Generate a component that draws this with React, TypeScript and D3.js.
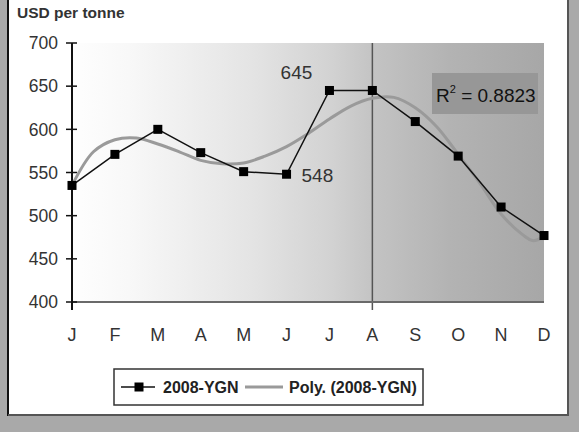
import * as d3 from 'd3'

const months = ['J', 'F', 'M', 'A', 'M', 'J', 'J', 'A', 'S', 'O', 'N', 'D']
const prices = [535, 571, 600, 573, 551, 548, 645, 645, 609, 569, 510, 477]
const yTicks = [400, 450, 500, 550, 600, 650, 700]

// polynomial trend line at half-month steps
const trendT = [0, 0.5, 1, 1.5, 2, 2.5, 3, 3.5, 4, 4.5, 5, 5.5, 6, 6.5, 7, 7.5, 8, 8.5, 9, 9.5, 10, 10.5, 10.75, 11]
const trendV = [535, 574, 588, 590, 583, 574, 564, 560, 561, 569, 580, 595, 612, 627, 636, 637, 625, 603, 571, 538, 502, 478, 471, 476]

const W = 579
const H = 432
const plot = { left: 72, right: 544, top: 43, bottom: 302 }
const FONT = '"Liberation Sans", Arial, sans-serif'

export default function App() {
  const x = d3.scaleLinear().domain([0, months.length - 1]).range([plot.left, plot.right])
  const y = d3.scaleLinear().domain([400, 700]).range([plot.bottom, plot.top])

  const dataLine = d3
    .line<number>()
    .x((_, i) => x(i))
    .y((d) => y(d))

  const trendLine = d3
    .line<number>()
    .x((_, i) => x(trendT[i]))
    .y((d) => y(d))
    .curve(d3.curveCatmullRom.alpha(0.5))

  const ms = 9

  return (
    <svg
      width={W}
      height={H}
      style={{ position: 'absolute', left: 0, top: 0, fontFamily: FONT }}
    >
      <defs>
        <linearGradient id="bg" x1="0" x2="1" y1="0" y2="0">
          <stop offset="0" stopColor="#fefefe" />
          <stop offset="0.12" stopColor="#f8f8f8" />
          <stop offset="0.38" stopColor="#e4e4e4" />
          <stop offset="0.55" stopColor="#d2d2d2" />
          <stop offset="0.64" stopColor="#c3c3c3" />
          <stop offset="0.8" stopColor="#b3b3b3" />
          <stop offset="1" stopColor="#a7a7a7" />
        </linearGradient>
      </defs>

      {/* outer frame */}
      <rect x={0} y={0} width={W} height={H} fill="#a9a9a9" />
      <rect x={8} y={-2} width={560} height={417} fill="#ffffff" />
      <line x1={8} x2={8} y1={0} y2={416} stroke="#111" strokeWidth={2} />
      <line x1={8} x2={569} y1={415} y2={415} stroke="#555" strokeWidth={2} />
      <line x1={568} x2={568} y1={0} y2={416} stroke="#555" strokeWidth={2} />

      <text x={17} y={18} fontSize={15.5} fontWeight="bold" fill="#333">
        USD per tonne
      </text>

      {/* plot area */}
      <rect
        x={plot.left}
        y={plot.top}
        width={plot.right - plot.left}
        height={plot.bottom - plot.top}
        fill="url(#bg)"
      />

      {/* marker line at August */}
      <line x1={x(7)} x2={x(7)} y1={plot.top} y2={plot.bottom + 8} stroke="#555" strokeWidth={1.5} />

      {/* x axis */}
      <line x1={plot.left} x2={plot.right} y1={plot.bottom} y2={plot.bottom} stroke="#6a6a6a" strokeWidth={2} />
      {months.map((m, i) => (
        <text
          key={i}
          x={x(i)}
          y={341}
          textAnchor="middle"
          fontSize={18}
          fill="#333"
        >
          {m}
        </text>
      ))}

      {/* y axis */}
      <line x1={plot.left} x2={plot.left} y1={plot.top} y2={plot.bottom + 8} stroke="#111" strokeWidth={2} />
      {yTicks.map((t) => (
        <g key={t}>
          <line x1={plot.left - 6} x2={plot.left + 5} y1={y(t)} y2={y(t)} stroke="#111" strokeWidth={1.5} />
          <text x={58} y={y(t)} dy="0.36em" textAnchor="end" fontSize={17.5} fill="#333">
            {t}
          </text>
        </g>
      ))}

      {/* trend */}
      <path d={trendLine(trendV) ?? ''} fill="none" stroke="#9a9a9a" strokeWidth={3} />

      {/* series */}
      <path d={dataLine(prices) ?? ''} fill="none" stroke="#111" strokeWidth={1.5} />
      {prices.map((p, i) => (
        <rect key={i} x={x(i) - ms / 2} y={y(p) - ms / 2} width={ms} height={ms} fill="#000" />
      ))}

      {/* data labels */}
      <text x={x(6) - 33} y={y(prices[6]) - 11} textAnchor="middle" fontSize={19} fill="#333">
        {prices[6]}
      </text>
      <text x={x(5) + 15} y={y(prices[5]) + 8} fontSize={19} fill="#333">
        {prices[5]}
      </text>

      {/* R squared */}
      <rect x={432} y={73} width={106} height={41} fill="#979797" />
      <text x={436} y={102} fontSize={19} fill="#111">
        R<tspan fontSize={11} dy={-9}>2</tspan>
        <tspan dy={9}> = 0.8823</tspan>
      </text>

      {/* legend */}
      <rect x={114} y={369} width={309} height={36} fill="#fff" stroke="#333" strokeWidth={1.5} />
      <line x1={121} x2={155} y1={387} y2={387} stroke="#111" strokeWidth={1.5} />
      <rect x={139 - ms / 2} y={387 - ms / 2} width={ms} height={ms} fill="#000" />
      <text x={163} y={393} fontSize={16} fontWeight="bold" fill="#222">
        2008-YGN
      </text>
      <line x1={245} x2={283} y1={387} y2={387} stroke="#9a9a9a" strokeWidth={3} />
      <text x={289} y={393} fontSize={16} fontWeight="bold" fill="#222">
        Poly. (2008-YGN)
      </text>
    </svg>
  )
}
